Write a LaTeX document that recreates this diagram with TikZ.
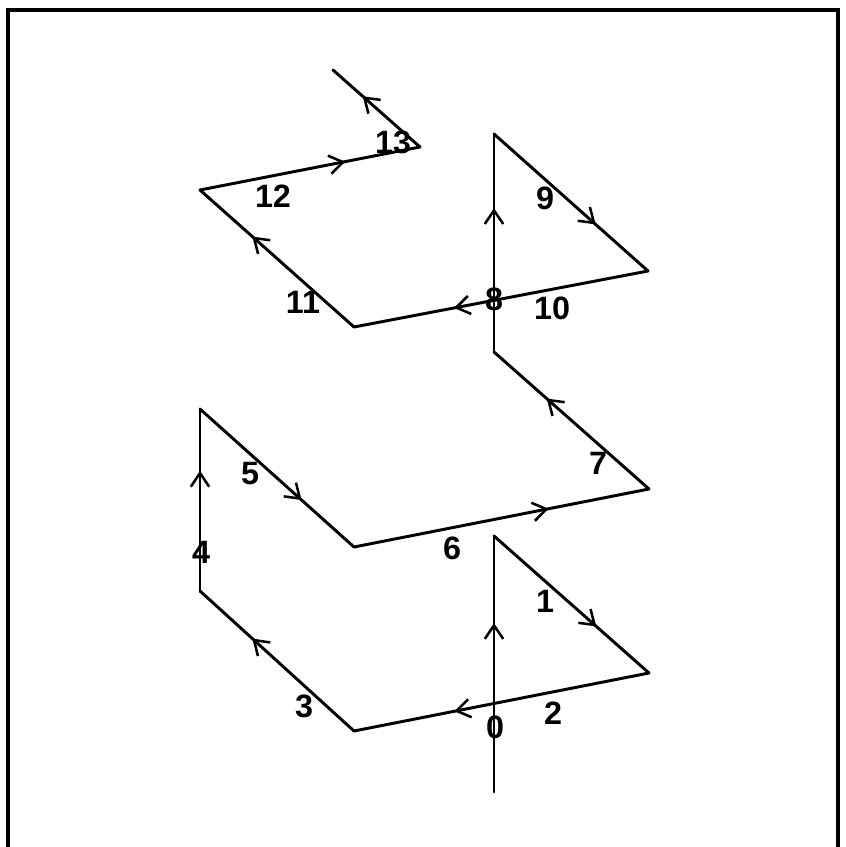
\documentclass[tikz,border=0pt]{standalone}
\usepackage{fontspec}
\setmainfont{Liberation Sans}
\usetikzlibrary{arrows.meta, decorations.markings}
\tikzset{
    walkedge/.style = {line width=2.1pt, line cap=round, postaction={decorate},
                       decoration={markings, mark=at position 0.66 with
                       {\arrow{Straight Barb[length=3.4mm, width=4.6mm, line width=1.8pt]}}}},
    steplbl/.style  = {font=\fontsize{23}{27}\selectfont\bfseries, inner sep=0pt},
    frameline/.style = {line width=2.6pt},
}

\begin{document}
\begin{tikzpicture}[x=0.25mm, y=-0.25mm]
\useasboundingbox (0,0) rectangle (845,847);

% frame, open at the bottom
\coordinate (fbl) at (8,850);
\coordinate (ftl) at (8,10);
\coordinate (ftr) at (838,10);
\coordinate (fbr) at (838,850);
\draw[frameline] (fbl) -- (ftl) -- (ftr) -- (fbr);

% corners of the walk
\coordinate (s)   at (494,792);
\coordinate (v1)  at (494,536);
\coordinate (v2)  at (649,673);
\coordinate (v3)  at (354,731);
\coordinate (v4)  at (200,591);
\coordinate (v5)  at (200,409);
\coordinate (v6)  at (354,547);
\coordinate (v7)  at (649,489);
\coordinate (v8)  at (494,352);
\coordinate (v9)  at (494,134);
\coordinate (v10) at (648,271);
\coordinate (v11) at (354,327);
\coordinate (v12) at (200,190);
\coordinate (v13) at (420,147);
\coordinate (e)   at (333,70);

\draw[walkedge] (s) -- (v1);
\draw[walkedge] (v1) -- (v2);
\draw[walkedge] (v2) -- (v3);
\draw[walkedge] (v3) -- (v4);
\draw[walkedge] (v4) -- (v5);
\draw[walkedge] (v5) -- (v6);
\draw[walkedge] (v6) -- (v7);
\draw[walkedge] (v7) -- (v8);
\draw[walkedge] (v8) -- (v9);
\draw[walkedge] (v9) -- (v10);
\draw[walkedge] (v10) -- (v11);
\draw[walkedge] (v11) -- (v12);
\draw[walkedge] (v12) -- (v13);
\draw[walkedge] (v13) -- (e);

% step numbers
\node[steplbl] (n0)  at (495,727) {0};
\node[steplbl] (n1)  at (545,601) {1};
\node[steplbl] (n2)  at (553,713) {2};
\node[steplbl] (n3)  at (304,706) {3};
\node[steplbl] (n4)  at (201,552) {4};
\node[steplbl] (n5)  at (250,474) {5};
\node[steplbl] (n6)  at (452,548) {6};
\node[steplbl] (n7)  at (598,463) {7};
\node[steplbl] (n8)  at (494,299) {8};
\node[steplbl] (n9)  at (545,198) {9};
\node[steplbl] (n10) at (552,308) {10};
\node[steplbl] (n11) at (303,302) {11};
\node[steplbl] (n12) at (273,196) {12};
\node[steplbl] (n13) at (393,142) {13};

\end{tikzpicture}
\end{document}
